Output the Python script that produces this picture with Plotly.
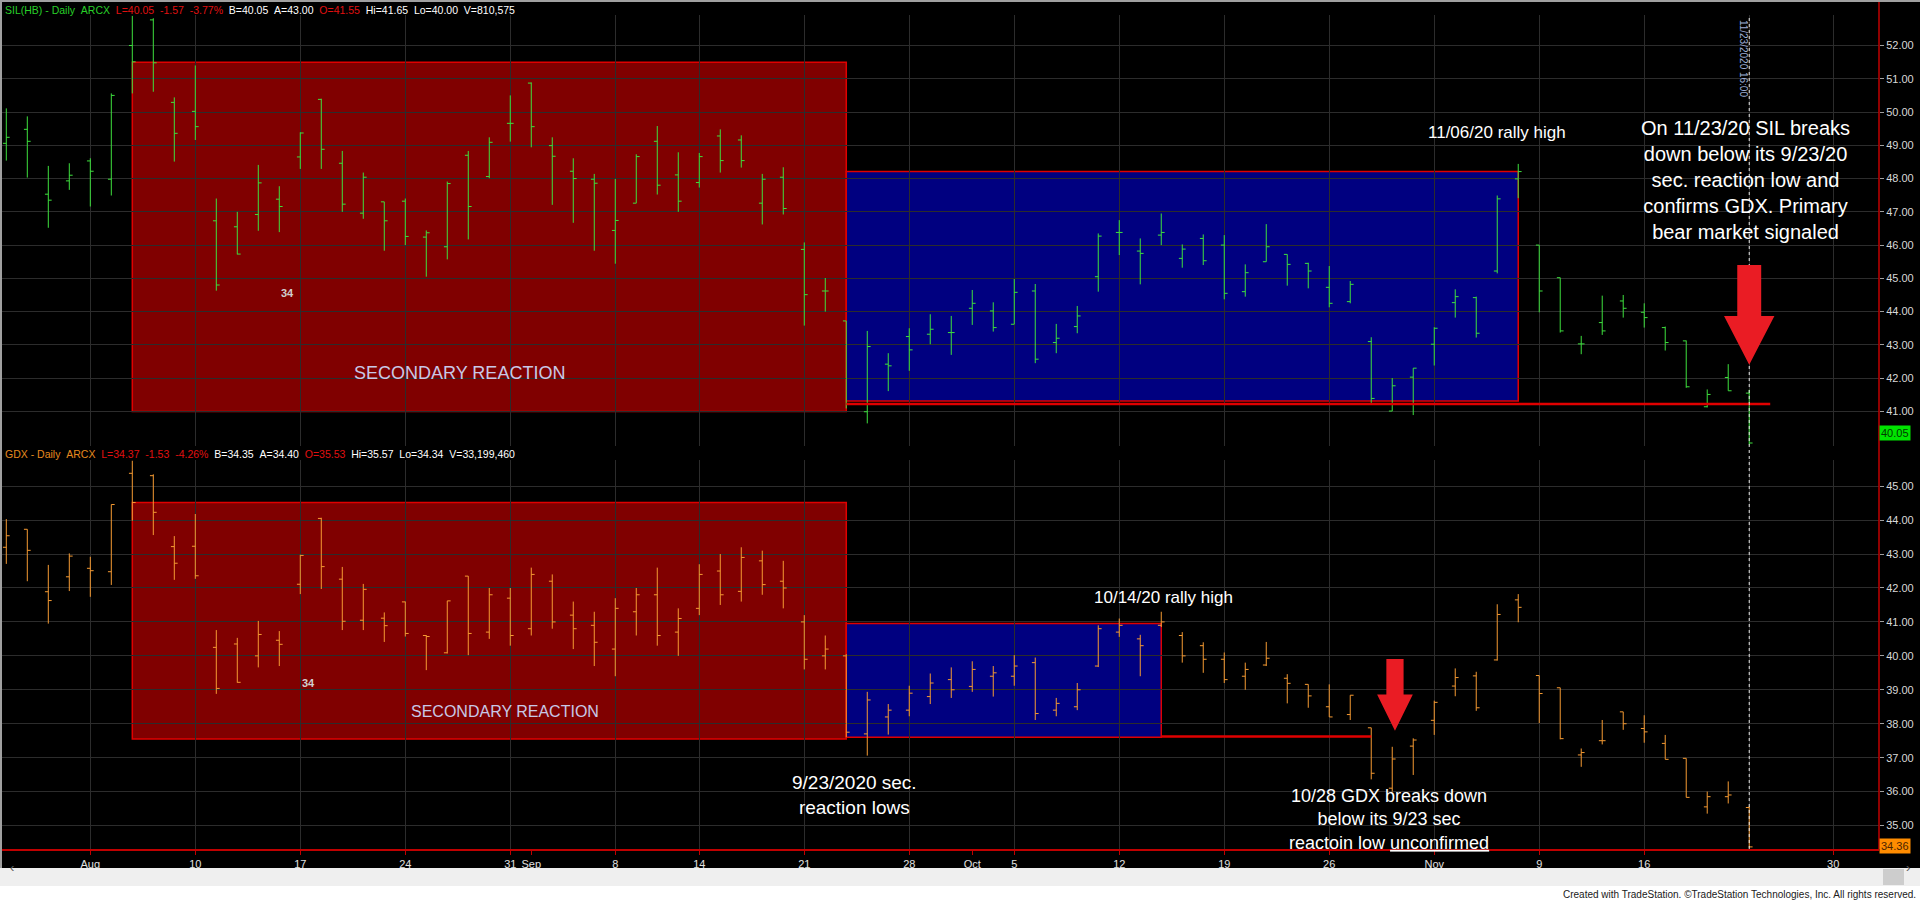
import pandas as pd
import plotly.graph_objects as go

# trading calendar (weekends, Labor Day and Thanksgiving skipped like TradeStation does)
holidays = ["2020-09-07", "2020-11-26"]
cal = [d.strftime("%Y-%m-%d") for d in pd.bdate_range("2020-07-28", "2020-12-04", freq="C", holidays=holidays)]
pos = {d: i for i, d in enumerate(cal)}
dates = cal[:84]

# SIL(HB) daily bars
sil_open = [49.06, 49.48, 47.53, 47.93, 48.53, 47.98, 52.00, 52.77, 50.29, 50.02,
            46.73, 46.55, 46.92, 47.38, 48.65, 50.38, 48.46, 46.96, 47.30, 47.32,
            46.24, 45.95, 48.70, 48.06, 49.66, 50.87, 48.99, 48.22, 47.98, 46.44,
            47.26, 49.12, 48.11, 47.88, 49.28, 49.16, 47.26, 48.04, 45.87, 44.62,
            43.72, 40.99, 42.42, 43.25, 43.32, 43.37, 44.10, 44.02, 43.62, 44.62,
            43.07, 43.55, 45.05, 46.38, 45.82, 46.30, 45.60, 46.20, 46.00, 44.60,
            45.50, 45.72, 45.45, 44.73, 44.30, 43.10, 41.01, 42.03, 43.02, 44.27,
            44.42, 45.22, 47.99, 46.00, 45.02, 43.03, 43.67, 44.32, 43.98, 43.52,
            43.12, 41.14, 42.02, 41.55]
sil_high = [50.11, 49.87, 48.38, 48.46, 48.61, 50.56, 52.89, 52.82, 50.44, 51.40,
            47.40, 47.00, 48.41, 47.77, 49.39, 50.40, 48.83, 48.18, 47.30, 47.40,
            46.44, 47.91, 48.83, 49.24, 50.50, 50.89, 49.24, 48.61, 48.14, 47.99,
            48.73, 49.58, 48.79, 48.77, 49.48, 49.30, 48.14, 48.34, 46.08, 45.01,
            43.72, 43.42, 42.75, 43.50, 43.92, 43.87, 44.65, 44.28, 44.98, 44.83,
            43.63, 44.17, 46.35, 46.75, 46.20, 46.95, 46.02, 46.32, 46.30, 45.42,
            46.63, 45.72, 45.47, 45.37, 44.92, 43.23, 42.00, 42.30, 43.53, 44.67,
            44.45, 47.49, 48.44, 46.00, 45.02, 43.27, 44.48, 44.50, 44.25, 43.55,
            43.13, 41.66, 42.42, 41.65]
sil_low = [48.54, 48.03, 46.52, 47.66, 47.16, 47.49, 50.56, 50.61, 48.51, 49.16,
           44.63, 45.72, 46.43, 46.39, 48.29, 48.29, 47.00, 46.79, 45.83, 46.00,
           45.05, 45.57, 46.17, 48.01, 49.11, 48.94, 47.21, 46.67, 45.83, 45.44,
           47.26, 47.52, 47.00, 47.73, 48.18, 48.33, 46.62, 46.92, 43.58, 44.00,
           41.09, 40.64, 41.61, 42.22, 43.02, 42.70, 43.60, 43.40, 43.62, 42.45,
           42.75, 43.35, 44.60, 45.70, 44.82, 46.00, 45.32, 45.40, 44.37, 44.45,
           45.50, 44.78, 44.70, 44.13, 44.25, 41.21, 41.01, 40.89, 42.38, 43.82,
           43.22, 45.15, 47.41, 43.98, 43.37, 42.72, 43.30, 43.82, 43.52, 42.83,
           41.71, 41.12, 41.62, 40.00]
sil_close = [49.24, 49.12, 47.35, 48.10, 48.22, 50.50, 51.51, 51.48, 49.36, 49.56,
             44.80, 45.73, 47.87, 47.16, 49.37, 48.88, 47.23, 48.04, 46.73, 46.26,
             46.37, 47.85, 47.16, 49.09, 49.66, 49.56, 48.67, 48.00, 47.86, 46.74,
             48.66, 47.80, 47.32, 48.66, 48.54, 48.54, 47.98, 47.10, 44.51, 44.62,
             41.24, 42.95, 42.37, 42.85, 43.47, 43.37, 44.25, 43.52, 44.58, 42.57,
             43.20, 43.87, 46.27, 46.38, 45.75, 46.38, 45.88, 45.53, 44.55, 45.17,
             45.95, 45.42, 45.22, 44.25, 44.82, 41.39, 41.77, 42.30, 43.50, 44.45,
             43.35, 47.39, 48.21, 44.62, 43.42, 43.03, 43.42, 44.10, 43.82, 43.07,
             41.74, 41.51, 41.62, 40.05]

# GDX daily bars
gdx_open = [43.20, 43.73, 41.89, 42.33, 42.58, 42.48, 45.38, 45.31, 43.22, 43.23,
            40.25, 40.35, 40.00, 40.46, 42.11, 44.05, 42.26, 41.05, 41.11, 41.59,
            40.60, 40.09, 42.35, 40.70, 41.70, 40.80, 42.20, 41.20, 40.90, 40.20,
            41.30, 41.80, 40.70, 41.40, 42.50, 41.90, 42.80, 42.20, 41.00, 40.00,
            40.00, 37.70, 38.20, 38.40, 38.80, 39.30, 39.10, 39.40, 39.40, 39.80,
            38.40, 38.50, 39.70, 40.70, 40.50, 40.90, 40.60, 40.30, 39.90, 39.40,
            39.73, 39.34, 39.16, 38.50, 38.27, 37.88, 36.10, 37.34, 38.10, 39.11,
            39.41, 39.88, 41.65, 39.42, 39.06, 37.08, 37.50, 38.35, 37.86, 37.42,
            36.98, 35.55, 35.85, 35.53]
gdx_high = [44.03, 43.73, 42.68, 43.02, 42.92, 44.46, 45.75, 45.35, 43.53, 44.18,
            40.76, 40.53, 41.03, 40.73, 42.98, 44.07, 42.62, 42.12, 41.28, 41.60,
            40.61, 41.62, 42.35, 42.00, 42.00, 42.60, 42.40, 41.60, 41.30, 41.70,
            42.00, 42.60, 41.40, 42.70, 43.00, 43.20, 43.10, 42.80, 41.20, 40.60,
            40.05, 38.94, 38.58, 39.12, 39.48, 39.66, 39.84, 39.70, 40.02, 39.95,
            38.76, 39.20, 40.90, 41.10, 40.62, 41.30, 40.70, 40.40, 40.10, 39.80,
            40.41, 39.46, 39.16, 39.16, 38.84, 37.88, 37.32, 37.57, 38.68, 39.63,
            39.53, 41.52, 41.82, 39.42, 39.06, 37.27, 38.11, 38.35, 38.25, 37.67,
            36.98, 36.00, 36.30, 35.57]
gdx_low = [42.71, 42.20, 40.95, 41.91, 41.74, 42.09, 43.98, 43.56, 42.24, 42.27,
           38.88, 39.21, 39.66, 39.70, 41.82, 41.97, 40.76, 40.76, 40.41, 40.57,
           39.58, 40.07, 40.02, 40.50, 40.30, 40.60, 40.80, 40.20, 39.70, 39.40,
           40.60, 40.30, 40.00, 41.20, 41.50, 41.60, 41.80, 41.40, 39.60, 39.60,
           37.60, 37.06, 37.68, 38.22, 38.58, 38.76, 38.94, 38.80, 39.12, 38.11,
           38.22, 38.40, 39.67, 40.56, 39.40, 40.85, 39.80, 39.50, 39.20, 39.00,
           39.70, 38.60, 38.47, 38.20, 38.11, 36.36, 36.00, 36.49, 37.67, 38.81,
           38.38, 39.86, 40.99, 38.02, 37.54, 36.73, 37.39, 37.82, 37.44, 36.95,
           35.83, 35.35, 35.65, 34.34]
gdx_close = [43.54, 43.11, 41.63, 42.94, 42.51, 44.46, 44.52, 44.23, 42.73, 42.36,
             39.04, 39.22, 40.63, 40.34, 42.96, 42.63, 41.02, 41.96, 40.89, 40.66,
             40.57, 41.62, 40.66, 41.80, 40.60, 42.40, 41.00, 40.80, 40.40, 41.40,
             41.80, 40.60, 41.10, 42.40, 41.80, 42.90, 42.10, 42.00, 39.90, 40.20,
             37.75, 38.70, 38.40, 38.90, 39.20, 39.00, 39.60, 39.50, 39.70, 38.30,
             38.60, 39.00, 40.80, 40.90, 40.30, 41.00, 40.00, 39.90, 39.30, 39.60,
             39.93, 39.19, 38.82, 38.20, 38.84, 36.54, 36.96, 37.52, 38.63, 39.36,
             38.47, 41.22, 41.43, 38.89, 37.56, 37.15, 37.50, 38.00, 37.76, 36.95,
             35.83, 35.85, 35.90, 34.37]

tick_dates = ["2020-08-03", "2020-08-10", "2020-08-17", "2020-08-24", "2020-08-31", "2020-09-01",
              "2020-09-08", "2020-09-14", "2020-09-21", "2020-09-28", "2020-10-01", "2020-10-05",
              "2020-10-12", "2020-10-19", "2020-10-26", "2020-11-02", "2020-11-09", "2020-11-16",
              "2020-11-30"]
tick_text = ["Aug", "10", "17", "24", "31", "Sep", "8", "14", "21", "28", "Oct", "5",
             "12", "19", "26", "Nov", "9", "16", "30"]
grid_dates = ["2020-08-03", "2020-08-10", "2020-08-17", "2020-08-24", "2020-08-31", "2020-09-08",
              "2020-09-14", "2020-09-21", "2020-09-28", "2020-10-05", "2020-10-12", "2020-10-19",
              "2020-10-26", "2020-11-02", "2020-11-09", "2020-11-16", "2020-11-23", "2020-11-30"]
sil_ticks = list(range(41, 53))
gdx_ticks = list(range(35, 46))

x = list(range(len(dates)))
grid_x = [pos[d] for d in grid_dates]
tick_x = [pos[d] for d in tick_dates]

W, H = 1920, 901
L_M, R_M, T_M, B_M = 2, 41, 15, 52
plot_h = H - T_M - B_M
plot_w = W - L_M - R_M


def py(p):  # pixel row -> paper y
    return (H - B_M - p) / plot_h


def px(p):  # pixel column -> paper x
    return (p - L_M) / plot_w


GRID = "#2c2c2c"
RED = "#e00000"
SIL_C = "#3ee03e"
GDX_C = "#f59a32"
FONT = "Liberation Sans, Arial, sans-serif"

fig = go.Figure()
fig.add_trace(go.Ohlc(x=x, open=sil_open, high=sil_high, low=sil_low, close=sil_close,
                      xaxis="x", yaxis="y", tickwidth=0.16,
                      increasing=dict(line=dict(color=SIL_C, width=1)),
                      decreasing=dict(line=dict(color=SIL_C, width=1)), hoverinfo="skip"))
fig.add_trace(go.Ohlc(x=x, open=gdx_open, high=gdx_high, low=gdx_low, close=gdx_close,
                      xaxis="x2", yaxis="y2", tickwidth=0.16,
                      increasing=dict(line=dict(color=GDX_C, width=1)),
                      decreasing=dict(line=dict(color=GDX_C, width=1)), hoverinfo="skip"))

shapes = []
# secondary reaction / rally boxes
i_aug5, i_sep23, i_oct14, i_nov6 = pos["2020-08-05"], pos["2020-09-23"], pos["2020-10-14"], pos["2020-11-06"]
shapes.append(dict(type="rect", xref="x", yref="y", x0=i_aug5, x1=i_sep23, y0=41.0, y1=51.5,
                   fillcolor="#800000", line=dict(color=RED, width=1.5), layer="below"))
shapes.append(dict(type="rect", xref="x", yref="y", x0=i_sep23, x1=i_nov6, y0=41.31, y1=48.21,
                   fillcolor="#000080", line=dict(color=RED, width=1.5), layer="below"))
shapes.append(dict(type="line", xref="x", yref="y", x0=i_sep23, x1=pos["2020-11-24"], y0=41.22, y1=41.22,
                   line=dict(color=RED, width=2.5)))
shapes.append(dict(type="rect", xref="x2", yref="y2", x0=i_aug5, x1=i_sep23, y0=37.55, y1=44.52,
                   fillcolor="#800000", line=dict(color=RED, width=1.5), layer="below"))
shapes.append(dict(type="rect", xref="x2", yref="y2", x0=i_sep23, x1=i_oct14, y0=37.6, y1=40.95,
                   fillcolor="#000080", line=dict(color=RED, width=1.5), layer="below"))
shapes.append(dict(type="line", xref="x2", yref="y2", x0=i_oct14, x1=pos["2020-10-28"], y0=37.62, y1=37.62,
                   line=dict(color=RED, width=2.5)))

# cursor line on the last bar
i_last = pos["2020-11-23"]
shapes.append(dict(type="line", xref="x", yref="paper", x0=i_last, x1=i_last, y0=0, y1=py(16),
                   line=dict(color="#e8e8e8", width=1, dash="dot")))


def down_arrow(xref, yref, xc, y_top, y_base, y_tip, shaft, head):
    path = (f"M {xc - shaft} {y_top} L {xc + shaft} {y_top} L {xc + shaft} {y_base} "
            f"L {xc + head} {y_base} L {xc} {y_tip} L {xc - head} {y_base} L {xc - shaft} {y_base} Z")
    return dict(type="path", xref=xref, yref=yref, path=path, fillcolor="#ea1c24",
                line=dict(color="#ea1c24", width=0))


shapes.append(down_arrow("x", "y", i_last, 45.40, 43.87, 42.40, 0.57, 1.2))
shapes.append(down_arrow("x2", "y2", pos["2020-10-29"] + 0.13, 39.91, 38.86, 37.79, 0.41, 0.85))

# frame: right price axis line, borders, scrollbar strip
shapes.append(dict(type="line", xref="paper", yref="paper", x0=1, x1=1, y0=0, y1=py(0),
                   line=dict(color="#c00000", width=1.5)))
shapes.append(dict(type="line", xref="paper", yref="paper", x0=px(0), x1=px(W), y0=py(1), y1=py(1),
                   line=dict(color="#a0a0a0", width=2)))
shapes.append(dict(type="line", xref="paper", yref="paper", x0=px(1), x1=px(1), y0=py(0), y1=py(868),
                   line=dict(color="#a0a0a0", width=2)))
shapes.append(dict(type="rect", xref="paper", yref="paper", x0=px(0), x1=px(W), y0=py(886), y1=py(868),
                   fillcolor="#efefef", line=dict(width=0)))
shapes.append(dict(type="rect", xref="paper", yref="paper", x0=px(1883), x1=px(1904), y0=py(885), y1=py(869),
                   fillcolor="#cdcdcd", line=dict(width=0)))
shapes.append(dict(type="rect", xref="paper", yref="paper", x0=px(0), x1=px(W), y0=py(H), y1=py(886),
                   fillcolor="#ffffff", line=dict(width=0)))

ann = []


def header(y_pix, parts):
    txt = "&nbsp;&nbsp;".join(f"<span style='color:{c}'>{t}</span>" for t, c in parts)
    ann.append(dict(xref="paper", yref="paper", x=px(3), y=py(y_pix), xanchor="left", yanchor="middle",
                    text=txt, showarrow=False, font=dict(family=FONT, size=10.5)))


header(10, [("SIL(HB) - Daily&nbsp;&nbsp;ARCX", "#28d028"), ("L=40.05&nbsp;&nbsp;-1.57&nbsp;&nbsp;-3.77%", "#e01010"),
            ("B=40.05&nbsp;&nbsp;A=43.00", "#ffffff"), ("O=41.55", "#e01010"),
            ("Hi=41.65&nbsp;&nbsp;Lo=40.00&nbsp;&nbsp;V=810,575", "#ffffff")])
header(454, [("GDX - Daily&nbsp;&nbsp;ARCX", "#e58a1f"), ("L=34.37&nbsp;&nbsp;-1.53&nbsp;&nbsp;-4.26%", "#e01010"),
             ("B=34.35&nbsp;&nbsp;A=34.40", "#ffffff"), ("O=35.53", "#e01010"),
             ("Hi=35.57&nbsp;&nbsp;Lo=34.34&nbsp;&nbsp;V=33,199,460", "#ffffff")])


def note(xref, yref, xv, yv, text, size, color="#ffffff", align="center", **kw):
    ann.append(dict(xref=xref, yref=yref, x=xv, y=yv, text=text, showarrow=False, align=align,
                    font=dict(family=FONT, size=size, color=color), **kw))


note("x", "y", 71.0, 49.37, "11/06/20 rally high", 17)
note("x", "y", 82.8, 47.97, "On 11/23/20 SIL breaks<br>down below its 9/23/20<br>sec. reaction low and<br>"
     "confirms GDX. Primary<br>bear market signaled", 20)
note("x2", "y2", 55.1, 41.72, "10/14/20 rally high", 17)
note("x2", "y2", 40.4, 35.91, "9/23/2020 sec.<br>reaction lows", 19)
note("x2", "y2", 65.85, 35.17, "10/28 GDX breaks down<br>below its 9/23 sec<br>reactoin low <u>unconfirmed</u>", 18)
note("x", "y", 21.56, 42.16, "SECONDARY REACTION", 18, color="#c8c8e6")
note("x2", "y2", 23.73, 38.36, "SECONDARY REACTION", 16, color="#c8c8e6")
note("x", "y", 13.37, 44.56, "<b>34</b>", 11, color="#d0d0d0")
note("x2", "y2", 14.4, 39.21, "<b>34</b>", 11, color="#d0d0d0")
note("x", "y", i_last - 0.3, 51.6, "11/23/2020 16:00", 10, color="#9fb0d8", textangle=90)

# last price tags
ann.append(dict(xref="paper", yref="y", x=1, y=sil_close[-1], yshift=10, xanchor="left", text="40.05",
                showarrow=False, bgcolor="#00e400", borderpad=1, font=dict(family=FONT, size=11, color="#003a00")))
ann.append(dict(xref="paper", yref="y2", x=1, y=gdx_close[-1], yshift=1, xanchor="left", text="34.36",
                showarrow=False, bgcolor="#ff8c00", borderpad=1, font=dict(family=FONT, size=11, color="#4a2400")))

# credit strip
ann.append(dict(xref="paper", yref="paper", x=px(1918), y=py(894), xanchor="right", yanchor="middle",
                text="Created with TradeStation. ©TradeStation Technologies, Inc. All rights reserved.",
                showarrow=False, font=dict(family=FONT, size=10, color="#202020")))
ann.append(dict(xref="paper", yref="paper", x=px(8), y=py(877), text="‹", showarrow=False,
                font=dict(family=FONT, size=13, color="#606060")))
ann.append(dict(xref="paper", yref="paper", x=px(1912), y=py(877), text="›", showarrow=False,
                font=dict(family=FONT, size=13, color="#606060")))

x_range = [-0.205, 89.18]
yax = dict(side="right", tickmode="array", tickformat=".2f", showgrid=True, gridcolor=GRID, gridwidth=1,
           zeroline=False, showline=False, ticks="outside", ticklen=4, tickcolor="#a0a0a0",
           tickfont=dict(family=FONT, size=11, color="#d8d8d8"), fixedrange=True)

fig.update_layout(
    width=W, height=H, template="none", showlegend=False,
    margin=dict(l=L_M, r=R_M, t=T_M, b=B_M, autoexpand=False),
    paper_bgcolor="#000000", plot_bgcolor="#000000",
    xaxis=dict(domain=[0, 1], anchor="y", range=x_range, tickmode="array", tickvals=grid_x,
               showticklabels=False, ticks="", showgrid=True, gridcolor=GRID, zeroline=False,
               rangeslider=dict(visible=False)),
    xaxis2=dict(domain=[0, 1], anchor="y2", range=x_range, tickmode="array", tickvals=tick_x,
                ticktext=tick_text, showgrid=False, zeroline=False, showline=True, linecolor="#c00000",
                linewidth=1.5, ticks="outside", ticklen=4, tickcolor="#c00000",
                tickfont=dict(family=FONT, size=11, color="#e0e0e0"),
                minor=dict(tickmode="array", tickvals=grid_x, showgrid=True, gridcolor=GRID, ticks=""),
                rangeslider=dict(visible=False)),
    yaxis=dict(domain=[py(446), py(15)], anchor="x", range=[39.96, 52.917], tickvals=sil_ticks, **yax),
    yaxis2=dict(domain=[0, py(460)], anchor="x2", range=[34.308, 45.772], tickvals=gdx_ticks, **yax),
    shapes=shapes, annotations=ann,
)

# drop the browser's default 8px body margin so the chart sits flush at the page corner
fig.write_html("out.html", config={"displayModeBar": False},
               post_script="document.body.style.margin='0px';")
